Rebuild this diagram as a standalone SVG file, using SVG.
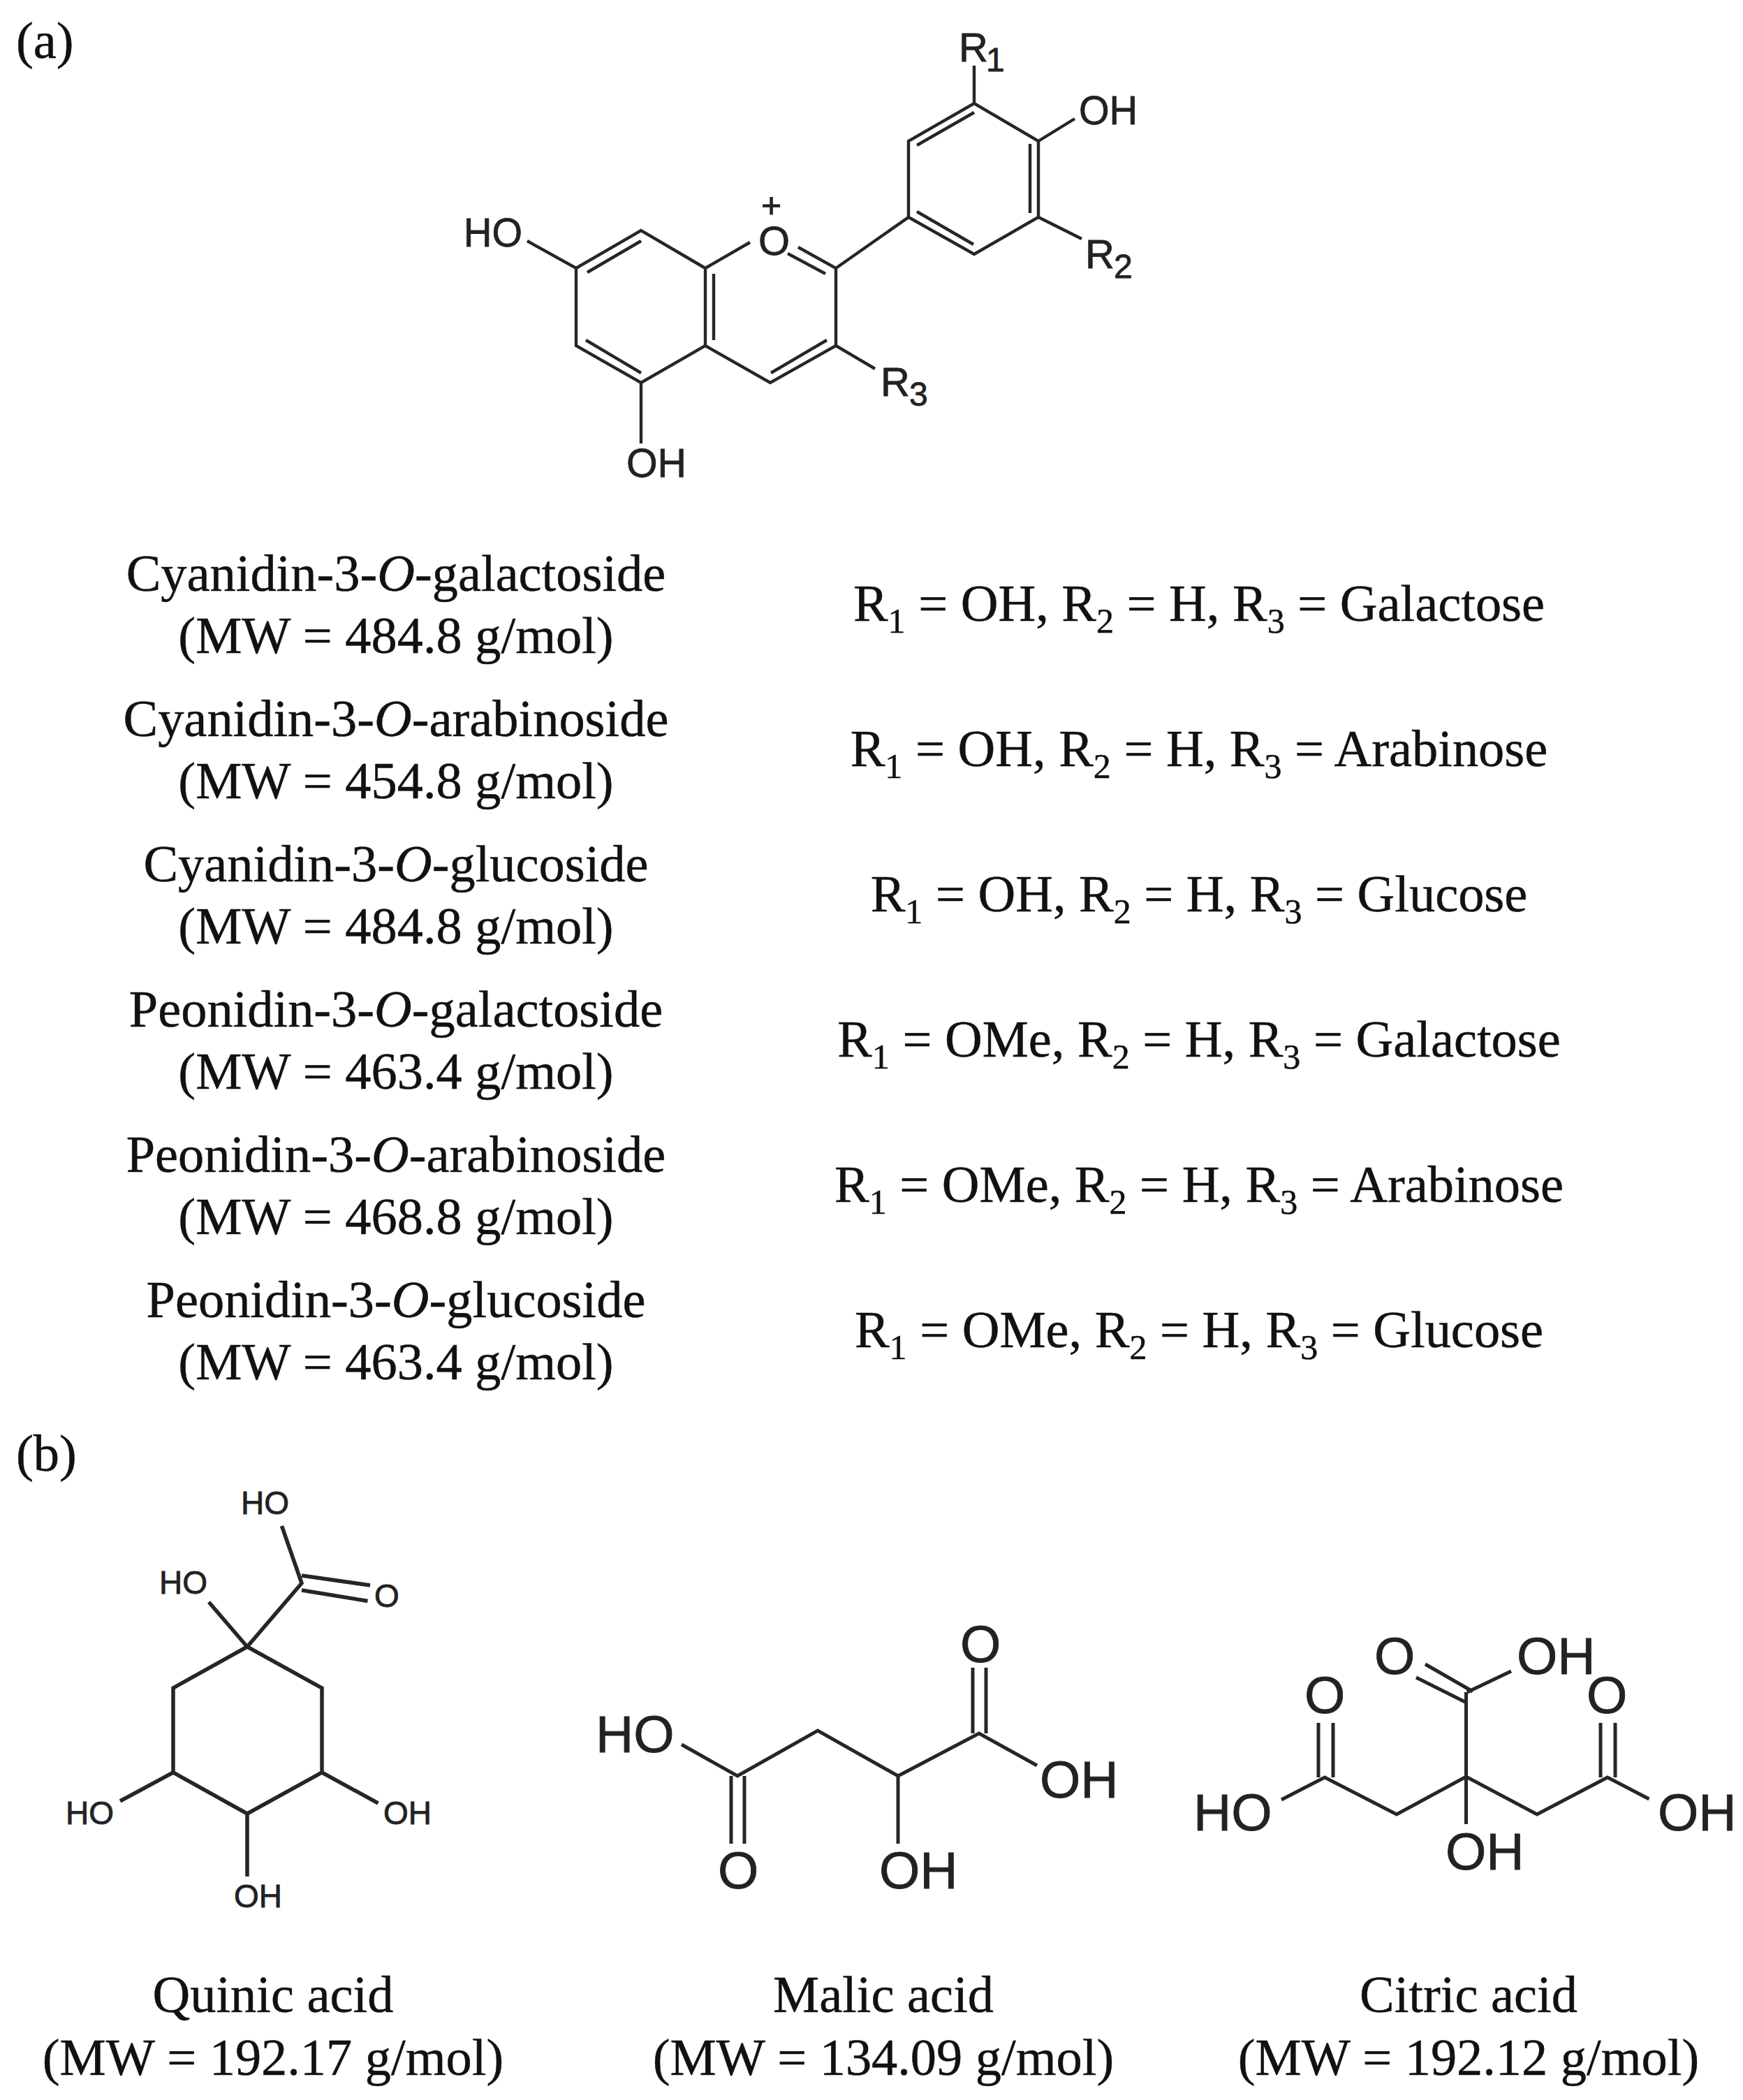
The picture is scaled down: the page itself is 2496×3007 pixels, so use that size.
<svg xmlns="http://www.w3.org/2000/svg" width="2496" height="3007" viewBox="0 0 2496 3007">
<style>
.t{font-family:"Liberation Serif","Times New Roman",serif;font-size:74.4px;fill:#111;text-anchor:middle;stroke:#111;stroke-width:.5}
.p{font-family:"Liberation Serif","Times New Roman",serif;font-size:74.4px;fill:#111;stroke:#111;stroke-width:.5}
.s{font-size:50px}
.i{font-style:italic}
.c{font-family:"Liberation Sans",Arial,sans-serif;fill:#222;stroke:#222;stroke-width:.8}
.a{font-size:58px}
.q{font-size:46px}
.m{font-size:75px}
.b{fill:none;stroke:#262626;stroke-linecap:butt;stroke-linejoin:miter}
#bonds-a{stroke-width:4.4}
#bonds-q{stroke-width:5.5}
#bonds-m,#bonds-c{stroke-width:5}
</style>
<rect width="2496" height="3007" fill="#fff"/>
<g id="connectors">
<path id="bonds-a" class="b" d="M755 345L825 384L918 330L1010 384M825 384V495L918 548L1010 495V384M1010 384L1074 347M1143 354L1197 384V495L1103 548L1010 495M918 548V635M1197 495L1253 528M1197 384L1301 311V202L1395 148L1487 202V311L1395 364L1301 311M1395 148V94M1487 202L1539 170M1487 311L1549 342M918 345L841 390M839 487L918 534M1022 392V487M1184 487L1104 534M1128 363L1182 392M1313 208L1395 161M1475 206V305M1313 303L1394 350"/>
<path id="bonds-q" class="b" d="M354 2358L248 2417V2538L354 2597L461 2538V2417L354 2358ZM354 2358L432 2267L403.500 2185M432 2256L530 2270M432 2277L526.500 2292.500M354 2358L299 2294M248 2538L172 2579M461 2538L541.500 2582M354 2597V2687"/>
<path id="bonds-m" class="b" d="M976 2498L1056 2543L1171 2478L1286 2543L1402 2482L1485 2528M1286 2543V2640M1393 2388V2482M1412 2388V2482M1047 2543V2640M1066 2543V2640"/>
<path id="bonds-c" class="b" d="M1835 2577L1897 2545L2000 2598L2099.500 2544L2201 2598L2302 2545L2361.500 2576M2099.500 2612V2438M2101 2423L2164 2393M2099.500 2438L2099.500 2423M2041 2383L2109 2422M2028 2402L2098 2437M1888 2467V2545M1909 2467V2545M2292 2467V2545M2313 2467V2545"/>
</g>
<g id="panel-labels">
<text class="p" x="23" y="83">(a)</text>
<text class="p" x="23" y="2106">(b)</text>
</g>
<g id="anthocyanin-labels">
<text class="c a" x="664" y="353" textLength="84" lengthAdjust="spacingAndGlyphs">HO</text>
<text class="c a" x="1086" y="365">O</text>
<text class="c" x="1090" y="311" font-size="50">+</text>
<text class="c a" x="1545" y="178" textLength="84" lengthAdjust="spacingAndGlyphs">OH</text>
<text class="c a" x="1373" y="88">R</text><text class="c" x="1412" y="102" font-size="48">1</text>
<text class="c a" x="1554" y="384">R</text><text class="c" x="1595" y="398" font-size="48">2</text>
<text class="c a" x="1261" y="567">R</text><text class="c" x="1302" y="581" font-size="48">3</text>
<text class="c a" x="897" y="683" textLength="86" lengthAdjust="spacingAndGlyphs">OH</text>
</g>
<g id="compound-names">
<text class="t" x="567" y="846">Cyanidin-3-<tspan class="i">O</tspan>-galactoside</text>
<text class="t" x="567" y="935">(MW = 484.8 g/mol)</text>
<text class="t" x="567" y="1054">Cyanidin-3-<tspan class="i">O</tspan>-arabinoside</text>
<text class="t" x="567" y="1143">(MW = 454.8 g/mol)</text>
<text class="t" x="567" y="1262">Cyanidin-3-<tspan class="i">O</tspan>-glucoside</text>
<text class="t" x="567" y="1351">(MW = 484.8 g/mol)</text>
<text class="t" x="567" y="1470">Peonidin-3-<tspan class="i">O</tspan>-galactoside</text>
<text class="t" x="567" y="1559">(MW = 463.4 g/mol)</text>
<text class="t" x="567" y="1678">Peonidin-3-<tspan class="i">O</tspan>-arabinoside</text>
<text class="t" x="567" y="1767">(MW = 468.8 g/mol)</text>
<text class="t" x="567" y="1886">Peonidin-3-<tspan class="i">O</tspan>-glucoside</text>
<text class="t" x="567" y="1975">(MW = 463.4 g/mol)</text>
</g>
<g id="substituents">
<text class="t" x="1717" y="889">R<tspan class="s" dy="17">1</tspan><tspan dy="-17"> = OH, R</tspan><tspan class="s" dy="17">2</tspan><tspan dy="-17"> = H, R</tspan><tspan class="s" dy="17">3</tspan><tspan dy="-17"> = Galactose</tspan></text>
<text class="t" x="1717" y="1097">R<tspan class="s" dy="17">1</tspan><tspan dy="-17"> = OH, R</tspan><tspan class="s" dy="17">2</tspan><tspan dy="-17"> = H, R</tspan><tspan class="s" dy="17">3</tspan><tspan dy="-17"> = Arabinose</tspan></text>
<text class="t" x="1717" y="1305">R<tspan class="s" dy="17">1</tspan><tspan dy="-17"> = OH, R</tspan><tspan class="s" dy="17">2</tspan><tspan dy="-17"> = H, R</tspan><tspan class="s" dy="17">3</tspan><tspan dy="-17"> = Glucose</tspan></text>
<text class="t" x="1717" y="1513">R<tspan class="s" dy="17">1</tspan><tspan dy="-17"> = OMe, R</tspan><tspan class="s" dy="17">2</tspan><tspan dy="-17"> = H, R</tspan><tspan class="s" dy="17">3</tspan><tspan dy="-17"> = Galactose</tspan></text>
<text class="t" x="1717" y="1721">R<tspan class="s" dy="17">1</tspan><tspan dy="-17"> = OMe, R</tspan><tspan class="s" dy="17">2</tspan><tspan dy="-17"> = H, R</tspan><tspan class="s" dy="17">3</tspan><tspan dy="-17"> = Arabinose</tspan></text>
<text class="t" x="1717" y="1929">R<tspan class="s" dy="17">1</tspan><tspan dy="-17"> = OMe, R</tspan><tspan class="s" dy="17">2</tspan><tspan dy="-17"> = H, R</tspan><tspan class="s" dy="17">3</tspan><tspan dy="-17"> = Glucose</tspan></text>
</g>
<g id="quinic-acid">
<text class="c q" x="345" y="2168">HO</text>
<text class="c q" x="228" y="2282">HO</text>
<text class="c q" x="536" y="2301">O</text>
<text class="c q" x="94" y="2612">HO</text>
<text class="c q" x="549" y="2612">OH</text>
<text class="c q" x="335" y="2731">OH</text>
<text class="t" x="391" y="2881">Quinic acid</text>
<text class="t" x="391" y="2971">(MW = 192.17 g/mol)</text>
</g>
<g id="malic-acid">
<text class="c m" x="853" y="2509">HO</text>
<text class="c m" x="1489" y="2574">OH</text>
<text class="c m" x="1259" y="2704">OH</text>
<text class="c m" x="1375" y="2380">O</text>
<text class="c m" x="1028" y="2704">O</text>
<text class="t" x="1265" y="2881">Malic acid</text>
<text class="t" x="1265" y="2971">(MW = 134.09 g/mol)</text>
</g>
<g id="citric-acid">
<text class="c m" x="1968" y="2397">O</text>
<text class="c m" x="2172" y="2397">OH</text>
<text class="c m" x="1868" y="2453">O</text>
<text class="c m" x="2272" y="2453">O</text>
<text class="c m" x="1709" y="2621">HO</text>
<text class="c m" x="2374" y="2621">OH</text>
<text class="c m" x="2070" y="2677">OH</text>
<text class="t" x="2103" y="2881">Citric acid</text>
<text class="t" x="2103" y="2971">(MW = 192.12 g/mol)</text>
</g>
</svg>
